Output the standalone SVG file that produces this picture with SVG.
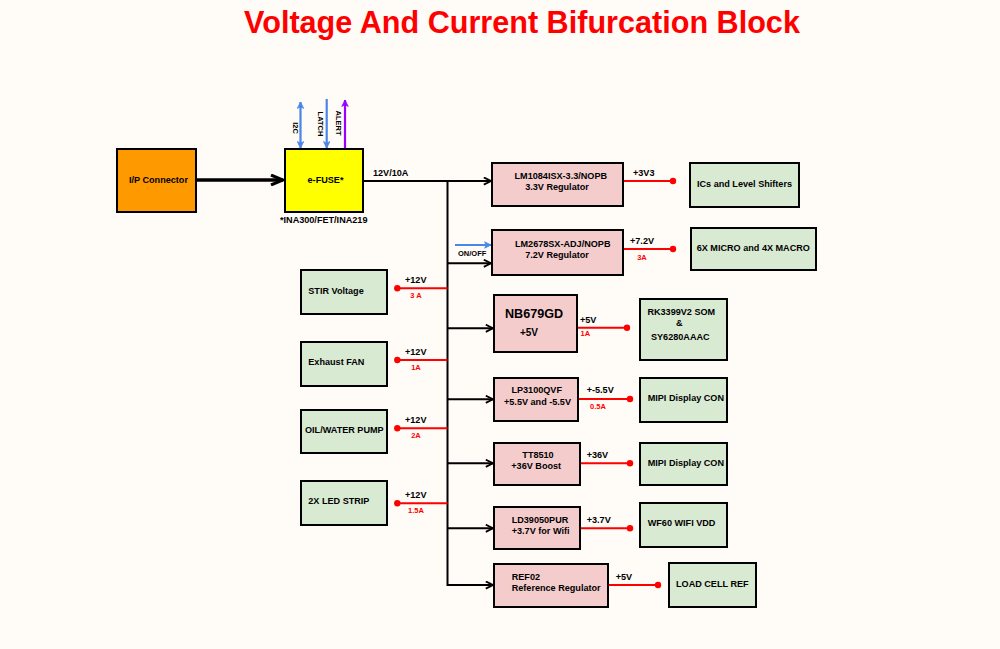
<svg xmlns="http://www.w3.org/2000/svg" width="1000" height="649" viewBox="0 0 1000 649">
<defs>
<marker id="chev" markerUnits="userSpaceOnUse" viewBox="0 0 10 10" refX="9" refY="5" markerWidth="10" markerHeight="9" orient="auto"><path d="M1,1 L9,5 L1,9" fill="none" stroke="#000" stroke-width="2"/></marker>
<marker id="chevBig" markerUnits="userSpaceOnUse" viewBox="0 0 14 12" refX="13" refY="6" markerWidth="15" markerHeight="12" orient="auto"><path d="M1,1 L13,6 L1,11" fill="none" stroke="#000" stroke-width="3"/></marker>
<marker id="blueHead" markerUnits="userSpaceOnUse" viewBox="0 0 10 10" refX="9" refY="5" markerWidth="10" markerHeight="8" orient="auto-start-reverse"><path d="M1,1 L9,5 L1,9 L3,5 Z" fill="#4A86E8" stroke="#4A86E8" stroke-width="1"/></marker>
<marker id="purpleHead" markerUnits="userSpaceOnUse" viewBox="0 0 10 10" refX="9" refY="5" markerWidth="10" markerHeight="8" orient="auto"><path d="M1,1 L9,5 L1,9 L3,5 Z" fill="#9900FF" stroke="#9900FF" stroke-width="1"/></marker>
</defs>
<style>
text{font-family:"Liberation Sans",Arial,sans-serif;font-weight:bold;fill:#000;}
.t9{font-size:9.1px;}
.t75{font-size:7.5px;}
.red{fill:#FF0000;font-size:7.5px;}
.mid{text-anchor:middle;}
.box{stroke:#000;stroke-width:2;}
.or{fill:#FF9900;}
.ye{fill:#FFFF00;}
.pk{fill:#F4CCCC;}
.gr{fill:#D9EAD3;}
.bus{stroke:#000;stroke-width:2;fill:none;}
.rl{stroke:#FF0000;stroke-width:2;fill:none;}
.dot{fill:#FF0000;}
</style>
<rect x="0" y="0" width="1000" height="649" fill="#FFFBF6"/>
<text x="522" y="33" class="mid" style="font-size:30.6px;fill:#FF0000">Voltage And Current Bifurcation Block</text>

<g id="connectors">
<line x1="197" y1="180" x2="283" y2="180" stroke="#000" stroke-width="3.5" marker-end="url(#chevBig)"/>
<line x1="300.5" y1="102" x2="300.5" y2="148" stroke="#4A86E8" stroke-width="2.2" marker-start="url(#blueHead)" marker-end="url(#blueHead)"/>
<line x1="326.7" y1="99" x2="326.7" y2="148" stroke="#4A86E8" stroke-width="2.2" marker-end="url(#blueHead)"/>
<line x1="345" y1="149" x2="345" y2="100" stroke="#9900FF" stroke-width="2.2" marker-end="url(#purpleHead)"/>
<text class="t75 mid" transform="translate(295,128) rotate(90)" dominant-baseline="central">I2C</text>
<text class="t75 mid" transform="translate(320.7,124) rotate(90)" dominant-baseline="central">LATCH</text>
<text class="t75 mid" transform="translate(338.7,123) rotate(90)" dominant-baseline="central">ALERT</text>
<text x="373" y="176" class="t9">12V/10A</text>
<text x="280" y="223" class="t9">*INA300/FET/INA219</text>

<line x1="364" y1="181" x2="491" y2="181" class="bus" marker-end="url(#chev)"/>
<line x1="447.5" y1="180" x2="447.5" y2="586" class="bus"/>
<line x1="447.5" y1="263.3" x2="491" y2="263.3" class="bus" marker-end="url(#chev)"/>
<line x1="447.5" y1="328.3" x2="493" y2="328.3" class="bus" marker-end="url(#chev)"/>
<line x1="447.5" y1="399.3" x2="493" y2="399.3" class="bus" marker-end="url(#chev)"/>
<line x1="447.5" y1="463.3" x2="493" y2="463.3" class="bus" marker-end="url(#chev)"/>
<line x1="447.5" y1="528.3" x2="493" y2="528.3" class="bus" marker-end="url(#chev)"/>
<line x1="447.5" y1="585" x2="493" y2="585" class="bus" marker-end="url(#chev)"/>
<line x1="455" y1="245" x2="491" y2="245" stroke="#4A86E8" stroke-width="2.2" marker-end="url(#blueHead)"/>
<text x="458" y="255.5" class="t75">ON/OFF</text>

<line x1="623" y1="181" x2="673" y2="181" class="rl"/><circle cx="673" cy="181" r="3.2" class="dot"/>
<text x="633" y="176" class="t9">+3V3</text>
<line x1="623" y1="249" x2="673" y2="249" class="rl"/><circle cx="673" cy="249" r="3.2" class="dot"/>
<text x="630" y="243.5" class="t9">+7.2V</text>
<text x="642" y="259.5" class="red mid">3A</text>

<line x1="397.3" y1="288.3" x2="447.5" y2="288.3" class="rl"/><circle cx="397.3" cy="288.3" r="3.2" class="dot"/>
<text x="405" y="283.2" class="t9">+12V</text><text x="416" y="297.7" class="red mid">3 A</text>
<line x1="397.3" y1="360" x2="447.5" y2="360" class="rl"/><circle cx="397.3" cy="360" r="3.2" class="dot"/>
<text x="405" y="355" class="t9">+12V</text><text x="416" y="370" class="red mid">1A</text>
<line x1="397.3" y1="428.3" x2="447.5" y2="428.3" class="rl"/><circle cx="397.3" cy="428.3" r="3.2" class="dot"/>
<text x="405" y="422.5" class="t9">+12V</text><text x="416" y="437.7" class="red mid">2A</text>
<line x1="397.3" y1="503.3" x2="447.5" y2="503.3" class="rl"/><circle cx="397.3" cy="503.3" r="3.2" class="dot"/>
<text x="405" y="497.5" class="t9">+12V</text><text x="416" y="512.7" class="red mid">1.5A</text>

<line x1="577" y1="327.7" x2="627" y2="327.7" class="rl"/><circle cx="627" cy="327.7" r="3.2" class="dot"/>
<text x="580" y="322.5" class="t9">+5V</text><text x="580.5" y="336.2" class="red">1A</text>
<line x1="578" y1="399" x2="630" y2="399" class="rl"/><circle cx="630" cy="399" r="3.2" class="dot"/>
<text x="586.7" y="393.2" class="t9">+-5.5V</text><text x="590" y="408.7" class="red">0.5A</text>
<line x1="580" y1="463.3" x2="630" y2="463.3" class="rl"/><circle cx="630" cy="463.3" r="3.2" class="dot"/>
<text x="586.7" y="458.2" class="t9">+36V</text>
<line x1="580" y1="528.3" x2="630" y2="528.3" class="rl"/><circle cx="630" cy="528.3" r="3.2" class="dot"/>
<text x="586.7" y="523.2" class="t9">+3.7V</text>
<line x1="608" y1="585" x2="658" y2="585" class="rl"/><circle cx="658" cy="585" r="3.2" class="dot"/>
<text x="615.7" y="580" class="t9">+5V</text>
</g>

<g id="ip"><rect x="117" y="149" width="79" height="63" class="box or"/><text x="158.5" y="183.2" class="t9 mid">I/P Connector</text></g>
<g id="efuse"><rect x="285" y="149" width="78" height="63" class="box ye"/><text x="325.5" y="183.2" class="t9 mid">e-FUSE*</text></g>

<g id="lm1084"><rect x="492" y="163" width="131" height="43" class="box pk"/><text x="560.8" y="179.3" class="t9 mid">LM1084ISX-3.3/NOPB</text><text x="557" y="190" class="t9 mid">3.3V Regulator</text></g>
<g id="ics"><rect x="690" y="163" width="109" height="44" class="box gr"/><text x="744.5" y="187.2" class="t9 mid">ICs and Level Shifters</text></g>
<g id="lm2678"><rect x="492" y="230" width="131" height="45" class="box pk"/><text x="562.7" y="246.5" class="t9 mid">LM2678SX-ADJ/NOPB</text><text x="557" y="258" class="t9 mid">7.2V Regulator</text></g>
<g id="micro"><rect x="691" y="228" width="125" height="42" class="box gr"/><text x="753.3" y="251" class="t9 mid">6X MICRO and 4X MACRO</text></g>

<g id="stir"><rect x="301" y="270" width="86" height="44" class="box gr"/><text x="308.3" y="294" class="t9">STIR Voltage</text></g>
<g id="fan"><rect x="301" y="342" width="86" height="44" class="box gr"/><text x="308.3" y="365" class="t9">Exhaust FAN</text></g>
<g id="pump"><rect x="301" y="410" width="86" height="43" class="box gr"/><text x="305" y="432.5" class="t9">OIL/WATER PUMP</text></g>
<g id="led"><rect x="301" y="481" width="86" height="44" class="box gr"/><text x="308.3" y="504.3" class="t9">2X LED STRIP</text></g>

<g id="nb679"><rect x="494" y="295" width="83" height="57" class="box pk"/><text x="534" y="318" class="mid" style="font-size:12.6px">NB679GD</text><text x="529" y="336.3" class="mid" style="font-size:10px">+5V</text></g>
<g id="rk3399"><rect x="640" y="299" width="87" height="61" class="box gr"/><text x="681.3" y="315" class="t9 mid">RK3399V2 SOM</text><text x="679.2" y="326" class="t9 mid">&amp;</text><text x="680.3" y="340" class="t9 mid">SY6280AAAC</text></g>
<g id="lp3100"><rect x="494" y="378" width="84" height="43" class="box pk"/><text x="536.7" y="393.2" class="t9 mid">LP3100QVF</text><text x="537.5" y="405" class="t9 mid">+5.5V and -5.5V</text></g>
<g id="mipi1"><rect x="640" y="378" width="87" height="44" class="box gr"/><text x="647.7" y="400.5" class="t9">MIPI Display CON</text></g>
<g id="tt8510"><rect x="494" y="443" width="86" height="42" class="box pk"/><text x="538" y="458.2" class="t9 mid">TT8510</text><text x="536.2" y="469.2" class="t9 mid">+36V Boost</text></g>
<g id="mipi2"><rect x="640" y="443" width="87" height="42" class="box gr"/><text x="647.7" y="466" class="t9">MIPI Display CON</text></g>
<g id="ld39050"><rect x="494" y="507" width="86" height="42" class="box pk"/><text x="511.7" y="523.2" class="t9">LD39050PUR</text><text x="511.7" y="534" class="t9">+3.7V for Wifi</text></g>
<g id="wf60"><rect x="640" y="503" width="87" height="44" class="box gr"/><text x="647.7" y="525.5" class="t9">WF60 WIFI VDD</text></g>
<g id="ref02"><rect x="494" y="564" width="114" height="43" class="box pk"/><text x="511.7" y="580" class="t9">REF02</text><text x="511.7" y="591" class="t9">Reference Regulator</text></g>
<g id="loadcell"><rect x="669" y="563" width="87" height="44" class="box gr"/><text x="712.3" y="586.5" class="t9 mid">LOAD CELL REF</text></g>
</svg>
